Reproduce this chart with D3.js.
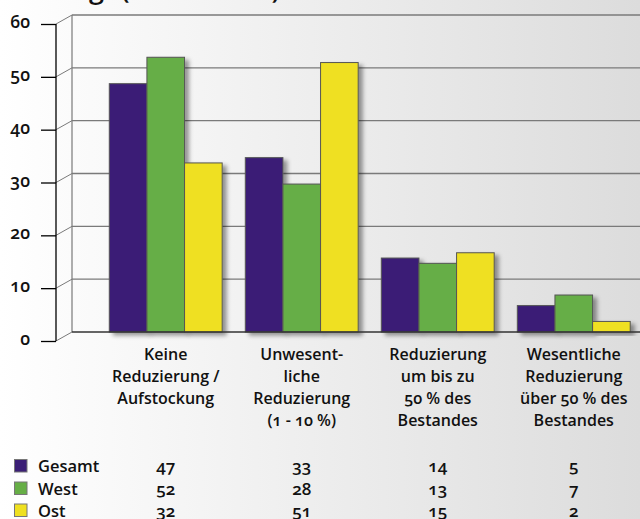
<!DOCTYPE html>
<html>
<head>
<meta charset="utf-8">
<script src="https://cdn.jsdelivr.net/npm/d3@7"></script>
<style>
  html, body { margin: 0; padding: 0; background: #fff; }
  svg { display: block; }
  text { font-family: "Open Sans", "Noto Sans", sans-serif; font-variant-numeric: oldstyle-nums; fill: #111; }
</style>
</head>
<body>
<svg id="chart" width="640" height="519"></svg>
<script>
// ---- data ----
const categories = ["keine", "unwesentlich", "bis50", "ueber50"];
const categoryLabels = [
  ["Keine", "Reduzierung /", "Aufstockung"],
  ["Unwesent-", "liche", "Reduzierung", "(1 - 10 %)"],
  ["Reduzierung", "um bis zu", "50 % des", "Bestandes"],
  ["Wesentliche", "Reduzierung", "über 50 % des", "Bestandes"]
];
const seriesNames = ["Gesamt", "West", "Ost"];
const seriesColors = ["#3b1f76", "#66ae46", "#efe020"];
const gesamtValues = [47, 33, 14, 5];
const westValues = [52, 28, 13, 7];
const ostValues = [32, 51, 15, 2];
const yTicks = [0, 10, 20, 30, 40, 50, 60];
const titleMain = "Bestandsentwicklung";
const titleParen = "(in Prozent)";

const seriesValues = [gesamtValues, westValues, ostValues];

const svg = d3.select("#chart");

// background gradient
const defs = svg.append("defs");
const grad = defs.append("linearGradient").attr("id", "bg").attr("x1", "0%").attr("x2", "100%").attr("y1", "0%").attr("y2", "0%");
grad.append("stop").attr("offset", "0%").attr("stop-color", "#ffffff");
grad.append("stop").attr("offset", "100%").attr("stop-color", "#dcdcdc");
const filt = defs.append("filter").attr("id", "shadow").attr("x", "-20%").attr("y", "-20%").attr("width", "150%").attr("height", "150%");
filt.append("feDropShadow").attr("dx", 4).attr("dy", 3).attr("stdDeviation", 2.2).attr("flood-color", "#000").attr("flood-opacity", 0.4);

svg.append("rect").attr("width", 640).attr("height", 519).attr("fill", "url(#bg)");

// scales
const yBack = d3.scaleLinear().domain([0, 60]).range([332, 15]);
const yFront = d3.scaleLinear().domain([0, 60]).range([341, 24]);
const frontX = 56, backX = 72, rightX = 640;

const x = d3.scaleBand().domain(categories).range([98, 641.5]).paddingInner(0.17).paddingOuter(0.083);
const xSub = d3.scaleBand().domain(seriesNames).range([0, x.bandwidth()]);

// title (cut off at top, only descenders visible as in the reference)
svg.append("text").attr("x", 104).attr("y", -2).attr("text-anchor", "end")
  .attr("font-size", 27).attr("font-weight", 600).text(titleMain);
svg.append("text").attr("x", 121).attr("y", -2)
  .attr("font-size", 27).attr("font-weight", 600)
  .attr("textLength", 159).attr("lengthAdjust", "spacing").text(titleParen);

// back wall gridlines
svg.append("g").selectAll("line").data(yTicks.filter(d => d > 0)).join("line")
  .attr("x1", backX).attr("x2", rightX)
  .attr("y1", d => yBack(d)).attr("y2", d => yBack(d))
  .attr("stroke", "#7a7a7a").attr("stroke-width", 1.3);

// back wall left edge
svg.append("line").attr("x1", backX).attr("x2", backX)
  .attr("y1", yBack(60)).attr("y2", yBack(0)).attr("stroke", "#7a7a7a").attr("stroke-width", 1.2);

// diagonal connectors
svg.append("g").selectAll("line").data(yTicks).join("line")
  .attr("x1", frontX).attr("y1", d => yFront(d))
  .attr("x2", backX).attr("y2", d => yBack(d))
  .attr("stroke", "#7a7a7a").attr("stroke-width", 1);

// bars
const barG = svg.append("g");
categories.forEach((c, ci) => {
  seriesNames.forEach((s, si) => {
    const v = seriesValues[si][ci];
    barG.append("rect")
      .attr("x", x(c) + xSub(s))
      .attr("y", yBack(v))
      .attr("width", xSub.bandwidth())
      .attr("height", yBack(0) - yBack(v))
      .attr("fill", seriesColors[si])
      .attr("stroke", "#555")
      .attr("stroke-width", 1)
      .attr("filter", "url(#shadow)");
  });
});

// baseline
svg.append("line").attr("x1", backX).attr("x2", rightX)
  .attr("y1", yBack(0)).attr("y2", yBack(0)).attr("stroke", "#333").attr("stroke-width", 1.3);

// front axis
const axis = d3.axisLeft(yFront).tickValues(yTicks).tickSize(15).tickPadding(11).tickFormat(d3.format("d"));
const axG = svg.append("g").attr("transform", `translate(${frontX},0)`).call(axis);
axG.select(".domain").attr("stroke", "#000").attr("stroke-width", 1.3).attr("d", `M0,${yFront(60)}V${yFront(0)}`);
axG.selectAll(".tick line").attr("stroke", "#000").attr("stroke-width", 1.3);
axG.selectAll(".tick text").attr("font-size", 17.5).attr("font-weight", 600)
  .attr("font-family", "'Open Sans', sans-serif").attr("fill", "#111").attr("dy", "0.2em");

// category labels
const lineBase = [360, 382, 404, 426];
categories.forEach((c, ci) => {
  const t = svg.append("text").attr("text-anchor", "middle")
    .attr("font-size", 16).attr("font-weight", 600);
  categoryLabels[ci].forEach((ln, li) => {
    t.append("tspan").attr("x", x(c) + x.bandwidth() / 2).attr("y", lineBase[li]).text(ln);
  });
});

// legend + data table
const rowBase = [472, 494.5, 516.5];
seriesNames.forEach((s, si) => {
  svg.append("rect").attr("x", 14.5).attr("y", rowBase[si] - 12.5).attr("width", 12.5).attr("height", 12.5)
    .attr("fill", seriesColors[si]).attr("stroke", "#777").attr("stroke-width", 1);
  svg.append("text").attr("x", 38).attr("y", rowBase[si])
    .attr("font-size", 16.5).attr("font-weight", 600).text(s);
  categories.forEach((c, ci) => {
    svg.append("text").attr("x", x(c) + x.bandwidth() / 2).attr("y", rowBase[si])
      .attr("text-anchor", "middle").attr("font-size", 17).attr("font-weight", 600)
      .text(seriesValues[si][ci]);
  });
});
</script>
</body>
</html>
